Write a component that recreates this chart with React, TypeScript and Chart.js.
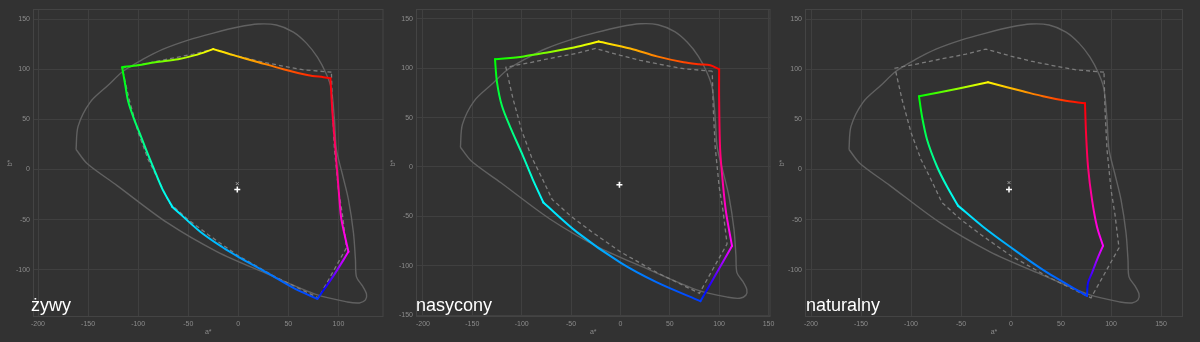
import React, { useEffect, useRef } from "react";
import { Chart, registerables } from "chart.js";

Chart.register(...registerables);

type Pt = [number, number];

const panelNames = ["żywy", "nasycony", "naturalny"];
const axisTitleX = "a*";
const axisTitleY = "b*";
const xTickValues = [-200, -150, -100, -50, 0, 50, 100, 150];
const yTickValues = [-150, -100, -50, 0, 50, 100, 150];

// Reference outline (solid gray), shared by all panels
const referenceOutline: Pt[] = [
  [-162, 20], [-160, 43], [-148, 67], [-130, 84], [-115, 98], [-95, 110], [-75, 120],
  [-50, 129], [-25, 136], [0, 142], [20, 145], [38, 144], [55, 137], [68, 126],
  [79, 112], [88, 95], [93, 80], [96, 50], [98, 20], [104, -5], [110, -30],
  [115, -63], [117, -90], [118, -107], [124, -116], [128, -124], [127, -130],
  [121, -133], [109, -132], [79, -125], [29, -104], [-21, -82], [-71, -53],
  [-121, -16], [-151, 6], [-162, 20],
];

// Reference gamut (dashed), shared by all panels
const referenceDashed: Pt[] = [
  [93, 97], [64, 99.5], [40, 104], [20, 108], [0, 113], [-25, 120], [-45, 115],
  [-71, 110], [-90, 106], [-116, 101], [-109, 70], [-100, 37], [-90, 10], [-80, -10],
  [-69, -33], [-50, -50], [-30, -65], [0, -86], [37, -107], [80, -128], [108, -78],
  [104, -45], [100, -20], [96, 20], [94, 60], [93, 97],
];

// Measured gamuts, ordered R -> Y -> G -> C -> B -> M -> R
const zywyGamut: Pt[] = [
  [92, 91], [85, 92], [70, 94], [45, 100], [20, 107], [-5, 114], [-25, 120],
  [-43, 114], [-60, 110], [-83, 107], [-100, 104], [-116, 102],
  [-113, 85], [-110, 68], [-104, 50], [-98, 35], [-91, 17], [-84, 0], [-76, -19], [-66, -37],
  [-38, -62], [-15, -78], [0, -87], [29, -103], [55, -118], [79, -129],
  [95, -106], [110, -82],
  [103, -50], [101, -30], [97, 20], [94, 57], [92, 91],
];
const zywyCorners = [0, 6, 11, 19, 25, 27, 32];

const nasyconyGamut: Pt[] = [
  [100, 99], [91, 103], [80, 104], [64, 106], [37, 112], [10, 120], [-22, 127],
  [-47, 121], [-74, 116], [-98, 112], [-127, 109],
  [-125, 86], [-120, 62], [-111, 39], [-99, 12], [-89, -12], [-78, -36],
  [-44, -66], [0, -97], [37, -117], [81, -136],
  [96, -110], [113, -80],
  [107, -46], [104, -19], [101, 18], [100, 69], [100, 99],
];
const nasyconyCorners = [0, 6, 10, 16, 20, 22, 27];

const naturalnyGamut: Pt[] = [
  [74, 66], [52, 69], [32, 73], [12, 78], [-4, 82], [-23, 87],
  [-51, 81], [-71, 77], [-92, 73],
  [-89, 53], [-84, 30], [-74, 3], [-64, -17], [-53, -36],
  [-28, -57], [-1, -77], [32, -100], [76, -126],
  [77, -113], [81, -103], [86, -90], [92, -76],
  [86, -57], [81, -30], [77, 3], [75, 37], [74, 66],
];
const naturalnyCorners = [0, 5, 8, 13, 17, 21, 26];

// White points: measured (+) and target (x)
const whiteMeasured: Pt[] = [[-1, -20], [-1, -18], [-2, -20]];
const whiteTarget: Pt[] = [[-1, -14], [-1, -17], [-2, -13]];

// Axis ranges per panel
const xMins = [-205, -207, -206];
const xMaxs = [145, 152, 172];
const yMins = [-147, -152, -147];
const yMaxs = [160, 160, 160];

const gamuts = [zywyGamut, nasyconyGamut, naturalnyGamut];
const cornersList = [zywyCorners, nasyconyCorners, naturalnyCorners];

const cornerHues = [0, 58, 120, 182, 226, 300, 360];
const FONT = '"Liberation Sans", Arial, sans-serif';

const framePlugin = {
  id: "frame",
  beforeDatasetsDraw(chart: any) {
    const { ctx, chartArea: a } = chart;
    ctx.save();
    ctx.strokeStyle = "#444444";
    ctx.lineWidth = 1;
    ctx.strokeRect(a.left + 0.5, a.top + 0.5, a.width - 1, a.height - 1);
    ctx.restore();
  },
};

function makeGradient(chart: any, from: Pt, to: Pt, h0: number, h1: number) {
  const xs = chart.scales.x;
  const ys = chart.scales.y;
  const g = chart.ctx.createLinearGradient(
    xs.getPixelForValue(from[0]), ys.getPixelForValue(from[1]),
    xs.getPixelForValue(to[0]), ys.getPixelForValue(to[1])
  );
  for (let s = 0; s <= 6; s++) {
    const t = s / 6;
    g.addColorStop(t, `hsl(${h0 + (h1 - h0) * t}, 100%, 50%)`);
  }
  return g;
}

const toXY = (pts: Pt[]) => pts.map(([x, y]) => ({ x, y }));

function GamutChart({ idx, width, padRight }: { idx: number; width: number; padRight: number }) {
  const ref = useRef<HTMLCanvasElement | null>(null);
  useEffect(() => {
    if (!ref.current) return;
    const gamut = gamuts[idx];
    const corners = cornersList[idx];
    const edges = corners.slice(0, -1).map((c, k) => gamut.slice(c, corners[k + 1] + 1));
    const edgeSets = edges.map((pts, k) => ({
      data: toXY(pts),
      showLine: true,
      pointRadius: 0,
      borderWidth: 2,
      tension: 0.3,
      borderCapStyle: "round",
      borderJoinStyle: "round",
      borderColor: (c: any) => {
        const chart = c.chart;
        if (!chart.chartArea || !chart.scales || !chart.scales.x) return `hsl(${cornerHues[k]},100%,50%)`;
        return makeGradient(chart, pts[0], pts[pts.length - 1], cornerHues[k], cornerHues[k + 1]);
      },
    }));
    const tickCommon = { color: "#8c8c8c", font: { size: 7, family: FONT } };
    const chart = new Chart(ref.current, {
      type: "scatter",
      data: {
        datasets: [
          {
            data: toXY([whiteMeasured[idx]]),
            pointStyle: "cross",
            pointRadius: 3,
            borderColor: "#ffffff",
            backgroundColor: "#ffffff",
            borderWidth: 1.5,
          },
          {
            data: toXY([whiteTarget[idx]]),
            pointStyle: "crossRot",
            pointRadius: 2,
            borderColor: "#9a9a9a",
            backgroundColor: "#9a9a9a",
            borderWidth: 1,
          },
          ...edgeSets,
          {
            data: toXY(referenceDashed),
            showLine: true,
            pointRadius: 0,
            borderWidth: 1.3,
            borderColor: "#7c7c7c",
            borderDash: [4, 3],
            tension: 0,
          },
          {
            data: toXY(referenceOutline),
            showLine: true,
            pointRadius: 0,
            borderWidth: 1.4,
            borderColor: "#616161",
            tension: 0.3,
          },
        ] as any,
      },
      options: {
        animation: false,
        responsive: false,
        devicePixelRatio: 1,
        layout: { padding: { top: 9, right: padRight, left: 0, bottom: 0 } },
        plugins: { legend: { display: false }, tooltip: { enabled: false } },
        scales: {
          x: {
            type: "linear",
            min: xMins[idx],
            max: xMaxs[idx],
            ticks: { ...tickCommon, padding: 3, maxRotation: 0, autoSkip: false },
            grid: { color: "#404040", drawTicks: false },
            border: { display: false },
            title: { display: true, text: axisTitleX, color: "#8c8c8c", font: { size: 7, family: FONT }, padding: { top: 0, bottom: 6 } },
            afterBuildTicks: (s: any) => {
              s.ticks = xTickValues.filter((v) => v >= s.min && v <= s.max).map((v) => ({ value: v }));
            },
            afterFit: (s: any) => { s.height = 25; s.paddingLeft = 0; s.paddingRight = 0; },
          },
          y: {
            type: "linear",
            min: yMins[idx],
            max: yMaxs[idx],
            ticks: { ...tickCommon, padding: 3, autoSkip: false },
            grid: { color: "#404040", drawTicks: false },
            border: { display: false },
            title: { display: true, text: axisTitleY, color: "#8c8c8c", font: { size: 7, family: FONT }, padding: { top: 6, bottom: 0 } },
            afterBuildTicks: (s: any) => {
              s.ticks = yTickValues.filter((v) => v >= s.min && v <= s.max).map((v) => ({ value: v }));
            },
            afterFit: (s: any) => { s.width = 33; s.paddingTop = 0; s.paddingBottom = 0; },
          },
        },
      } as any,
      plugins: [framePlugin],
    });
    return () => chart.destroy();
  }, [idx, width, padRight]);
  return <canvas ref={ref} width={width} height={342} style={{ display: "block", width, height: 342 }} />;
}

const panelLefts = [0, 383, 772];
const panelWidths = [389, 393, 428];
const panelPads = [0, 0, 17];
const labelLefts = [31, 33, 34];

export default function App() {
  return (
    <div style={{ position: "fixed", left: 0, top: 0, width: 1200, height: 342, background: "#323232", overflow: "hidden" }}>
      {panelNames.map((name, i) => (
        <div key={name} style={{ position: "absolute", left: panelLefts[i], top: 0, width: panelWidths[i], height: 342 }}>
          <GamutChart idx={i} width={panelWidths[i]} padRight={panelPads[i]} />
          <div
            style={{
              position: "absolute",
              left: labelLefts[i],
              top: 296,
              color: "#ffffff",
              font: `18px ${FONT}`,
              lineHeight: "18px",
              whiteSpace: "nowrap",
            }}
          >
            {name}
          </div>
        </div>
      ))}
    </div>
  );
}
